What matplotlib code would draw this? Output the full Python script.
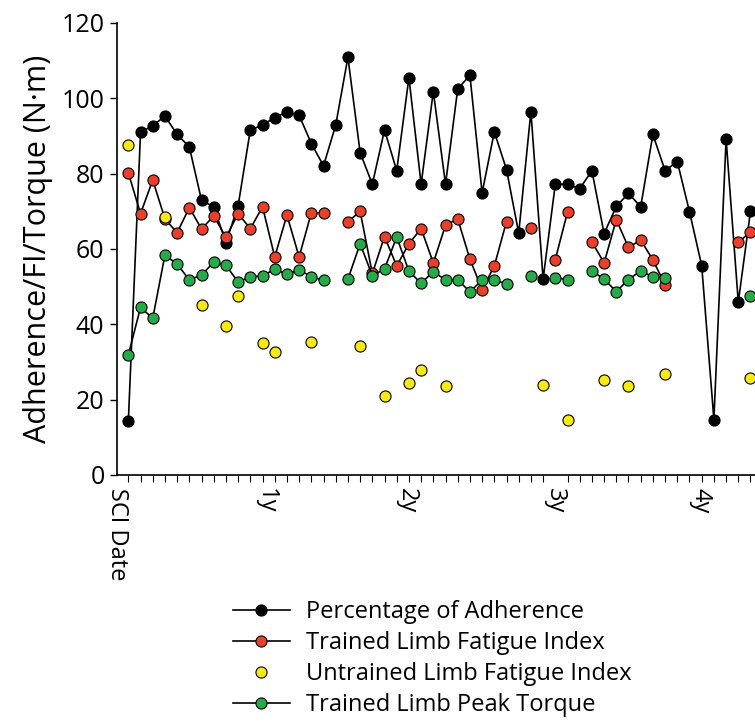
import numpy as np
import matplotlib
matplotlib.use("Agg")
import matplotlib.pyplot as plt

nan = np.nan

# one value per visit, nan = not measured
adherence = [14.3, 91.0, 92.7, 95.3, 90.4, 87.1, 72.9, 71.2, 61.7, 71.5,
             91.6, 92.9, 94.9, 96.4, 95.5, 88.0, 82.1, 92.9, 110.9, 85.6,
             77.2, 91.6, 80.8, 105.5, 77.2, 101.8, 77.2, 102.5, 106.1, 74.9,
             91.1, 81.1, 64.2, 96.5, 52.0, 77.2, 77.2, 76.0, 80.8, 64.1,
             71.3, 74.8, 71.2, 90.4, 80.8, 83.2, 69.9, 55.6, 14.7, 89.2,
             45.9, 70.0]
trained_fi = [80.2, 69.4, 78.3, 68.0, 64.3, 71.0, 65.3, 68.8, 63.1, 69.4,
              65.4, 71.2, 57.9, 69.0, 57.9, 69.6, 69.6, nan, 67.2, 70.0,
              53.5, 63.3, 55.5, 61.4, 65.4, 56.3, 66.3, 68.0, 57.3, 49.2,
              55.5, 67.3, nan, 65.6, nan, 57.2, 69.8, nan, 61.9, 56.3,
              67.8, 60.4, 62.4, 57.1, 50.5, nan, nan, nan, nan, nan,
              61.9, 64.4]
untrained_fi = [87.5, nan, nan, 68.6, nan, nan, 45.1, nan, 39.6, 47.4,
                nan, 35.1, 32.6, nan, nan, 35.2, nan, nan, nan, 34.2,
                nan, 21.0, nan, 24.5, 27.9, nan, 23.5, nan, nan, nan,
                nan, nan, nan, nan, 24.0, nan, 14.7, nan, nan, 25.3,
                nan, 23.7, nan, nan, 26.7, nan, nan, nan, nan, nan,
                nan, 25.8]
peak_torque = [31.9, 44.5, 41.6, 58.4, 56.0, 51.8, 53.1, 56.5, 55.7, 51.2,
               52.6, 52.9, 54.6, 53.3, 54.5, 52.6, 51.7, nan, 52.0, 61.4,
               52.9, 54.7, 63.2, 54.1, 50.9, 54.0, 51.8, 51.9, 48.6, 51.8,
               51.7, 50.8, nan, 52.9, nan, 52.4, 51.9, nan, 54.2, 52.0,
               48.7, 51.9, 54.2, 52.6, 52.4, nan, nan, nan, nan, nan,
               nan, 47.5]

year_pos = [-0.9, 11.3, 22.8, 35.0, 46.9]
year_labels = ["SCI Date", "1y", "2y", "3y", "4y"]
legend_labels = ["Percentage of Adherence", "Trained Limb Fatigue Index",
                 "Untrained Limb Fatigue Index", "Trained Limb Peak Torque"]

plt.rcParams["font.family"] = ["Open Sans", "DejaVu Sans"]

fig = plt.figure(figsize=(7.55, 7.25), dpi=100)
ax = fig.add_axes([117 / 755, 250 / 725, 638 / 755, 452 / 725])

x = np.arange(len(adherence))
mk = dict(marker="o", markersize=8, markeredgecolor="black", markeredgewidth=0.8)

ax.plot(x, adherence, color="black", lw=1.2, markerfacecolor="black", label=legend_labels[0], **mk)
ax.plot(x, trained_fi, color="black", lw=1.2, markerfacecolor="#e8402a", label=legend_labels[1], **mk)
ax.plot(x, untrained_fi, linestyle="none", markerfacecolor="#f6ea12", label=legend_labels[2], **mk)
ax.plot(x, peak_torque, color="black", lw=1.2, markerfacecolor="#27ab4a", label=legend_labels[3], **mk)

ax.set_xlim(-0.93, 51.37)
ax.set_ylim(0, 120)
ax.set_yticks(range(0, 121, 20))
ax.set_xticks(year_pos, year_labels, rotation=270, fontsize=17)
ax.set_xticks(x, minor=True)
ax.tick_params(axis="x", which="major", length=0, pad=9)
ax.tick_params(axis="x", which="minor", length=5, width=0.8, direction="out")
ax.tick_params(axis="y", length=5, width=1.0, labelsize=18, pad=4)

for s in ["top", "right"]:
    ax.spines[s].set_visible(False)
for s in ["left", "bottom"]:
    ax.spines[s].set_linewidth(1.2)

ax.set_ylabel("Adherence/FI/Torque (N\u00b7m)", fontsize=22, labelpad=6)

fig.legend(loc="upper left", bbox_to_anchor=(233 / 755, 1 - 600 / 725),
           frameon=False, fontsize=17, handlelength=2.4, handletextpad=0.7,
           labelspacing=0.3, borderpad=0, borderaxespad=0)

fig.savefig("out.png", dpi=100)
